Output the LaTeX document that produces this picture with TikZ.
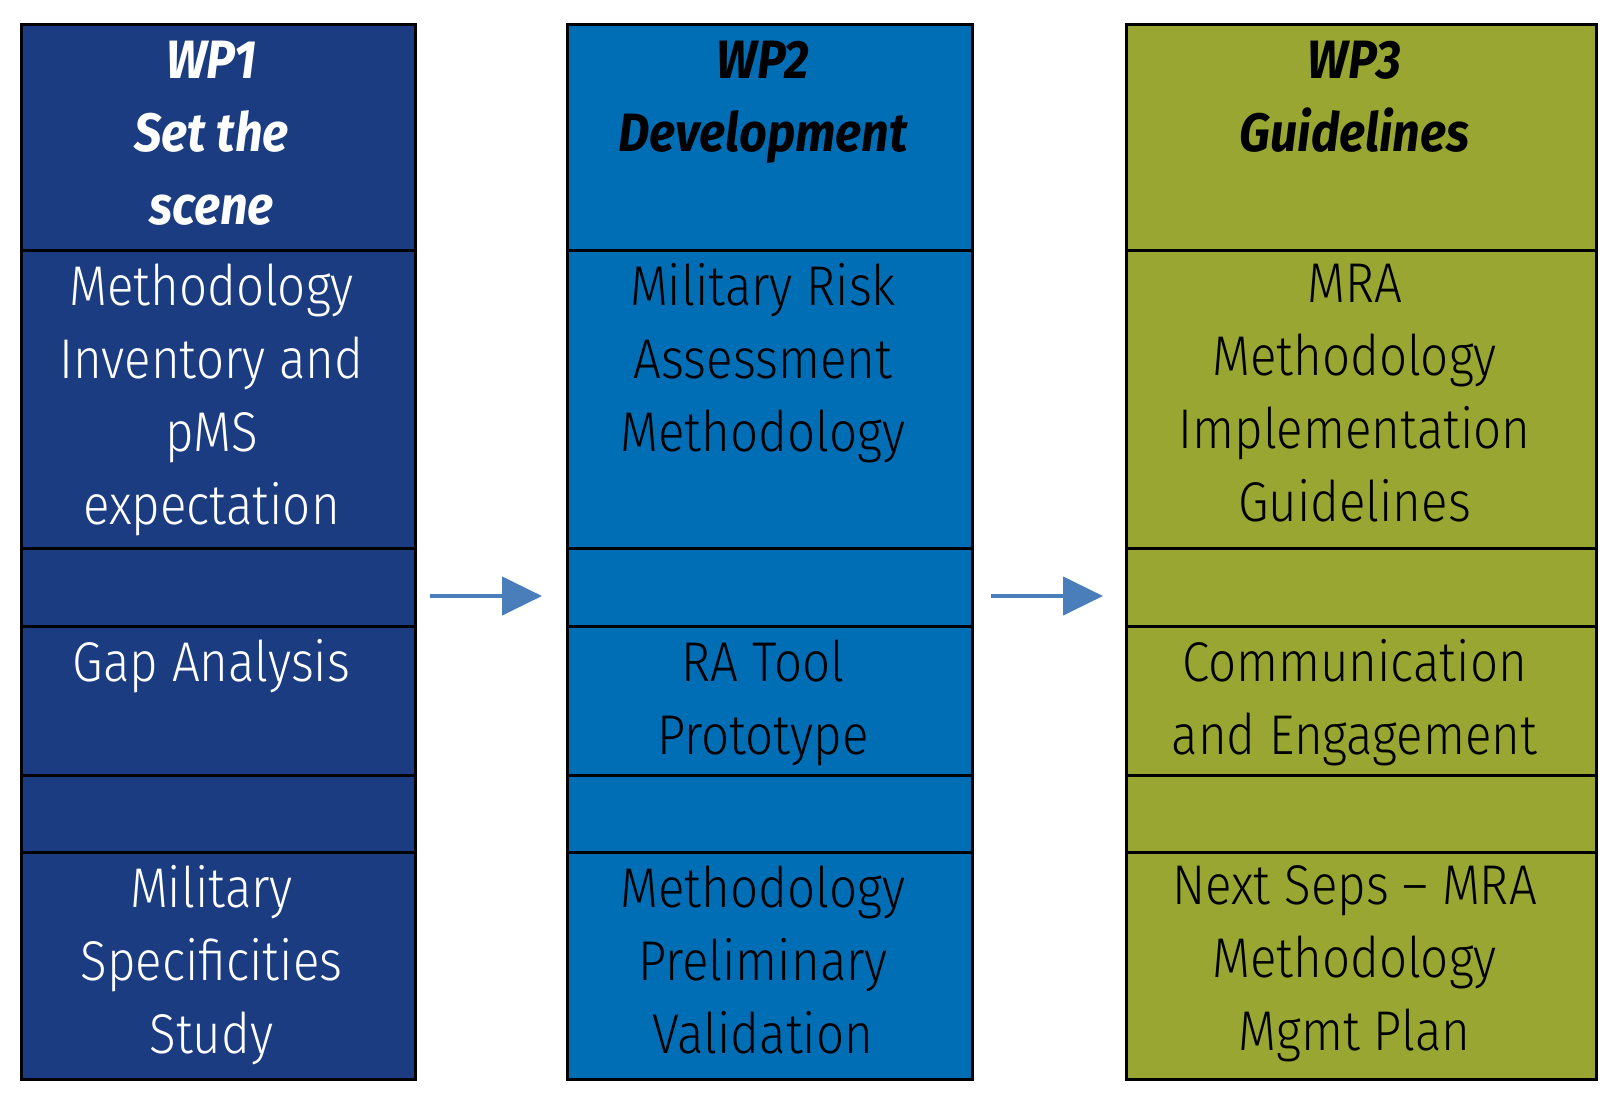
\documentclass[tikz,border=0pt]{standalone}
\usepackage{fontspec}
\setmainfont{Fira Sans Light}[FakeStretch=0.88,BoldItalicFont={Fira Sans Bold Italic},BoldItalicFeatures={FakeStretch=0.9}]
\usetikzlibrary{arrows.meta}
\definecolor{wpone}{HTML}{1B3C80}
\definecolor{wptwo}{HTML}{006EB4}
\definecolor{wpthree}{HTML}{9AA632}
\definecolor{arrowblue}{HTML}{4A7EBB}
\tikzset{
  cell/.style={draw=black,line width=3pt,anchor=north west,inner sep=0pt},
  body/.style={anchor=north,inner sep=0pt,align=center,font=\fontsize{56}{73}\selectfont},
  head/.style={anchor=north,inner sep=0pt,align=center,font=\fontsize{54}{73}\selectfont\bfseries\itshape},
  flow/.style={draw=arrowblue,line width=4.5pt,-{Triangle[length=40pt,width=38pt]}}
}
\begin{document}
\begin{tikzpicture}[x=1pt,y=-1pt]
\useasboundingbox (0,0) rectangle (1622,1113);
% column cells: rows 23,249,547,625,774,851,1078
\foreach \col/\xa/\xb/\cc in {1/20/414/wpone,2/566/971/wptwo,3/1125/1595/wpthree}{
  \foreach \r/\ya/\yb in {0/23/249,1/249/547,2/547/625,3/625/774,4/774/851,5/851/1078}{
    \node[cell,fill=\cc,minimum width={(\xb-\xa)*1pt},minimum height={(\yb-\ya)*1pt}] (c\col r\r) at (\xa,\ya) {};
  }
}
% WP1 texts
\node[head,text=white] (t1h) at ([xshift=-7pt,yshift=-18pt]c1r0.north) {WP1\\Set the\\scene};
\node[body,text=white] (t11) at ([xshift=-7pt,yshift=-14.5pt]c1r1.north) {Methodology\\Inventory and\\pMS\\expectation};
\node[body,text=white] (t13) at ([xshift=-7pt,yshift=-14.5pt]c1r3.north) {Gap Analysis};
\node[body,text=white] (t15) at ([xshift=-7pt,yshift=-14.5pt]c1r5.north) {Military\\Specificities\\Study};
% WP2 texts
\node[head,text=black] (t2h) at ([xshift=-7pt,yshift=-18pt]c2r0.north) {WP2\\Development};
\node[body,text=black] (t21) at ([xshift=-7pt,yshift=-14.5pt]c2r1.north) {Military Risk\\Assessment\\Methodology};
\node[body,text=black] (t23) at ([xshift=-7pt,yshift=-14.5pt]c2r3.north) {RA Tool\\Prototype};
\node[body,text=black] (t25) at ([xshift=-7pt,yshift=-14.5pt]c2r5.north) {Methodology\\Preliminary\\Validation};
% WP3 texts
\node[head,text=black] (t3h) at ([xshift=-7pt,yshift=-18pt]c3r0.north) {WP3\\Guidelines};
\node[body,text=black] (t31) at ([xshift=-7pt,yshift=-14.5pt]c3r1.north) {MRA\\Methodology\\Implementation\\Guidelines};
\node[body,text=black] (t33) at ([xshift=-7pt,yshift=-14.5pt]c3r3.north) {Communication\\and Engagement};
\node[body,text=black] (t35) at ([xshift=-7pt,yshift=-14.5pt]c3r5.north) {Next Seps – MRA\\Methodology\\Mgmt Plan};
% arrows
\coordinate (a1s) at (430,596);
\coordinate (a1e) at (542,596);
\coordinate (a2s) at (991,596);
\coordinate (a2e) at (1103,596);
\draw[flow] (a1s) -- (a1e);
\draw[flow] (a2s) -- (a2e);
\end{tikzpicture}
\end{document}
